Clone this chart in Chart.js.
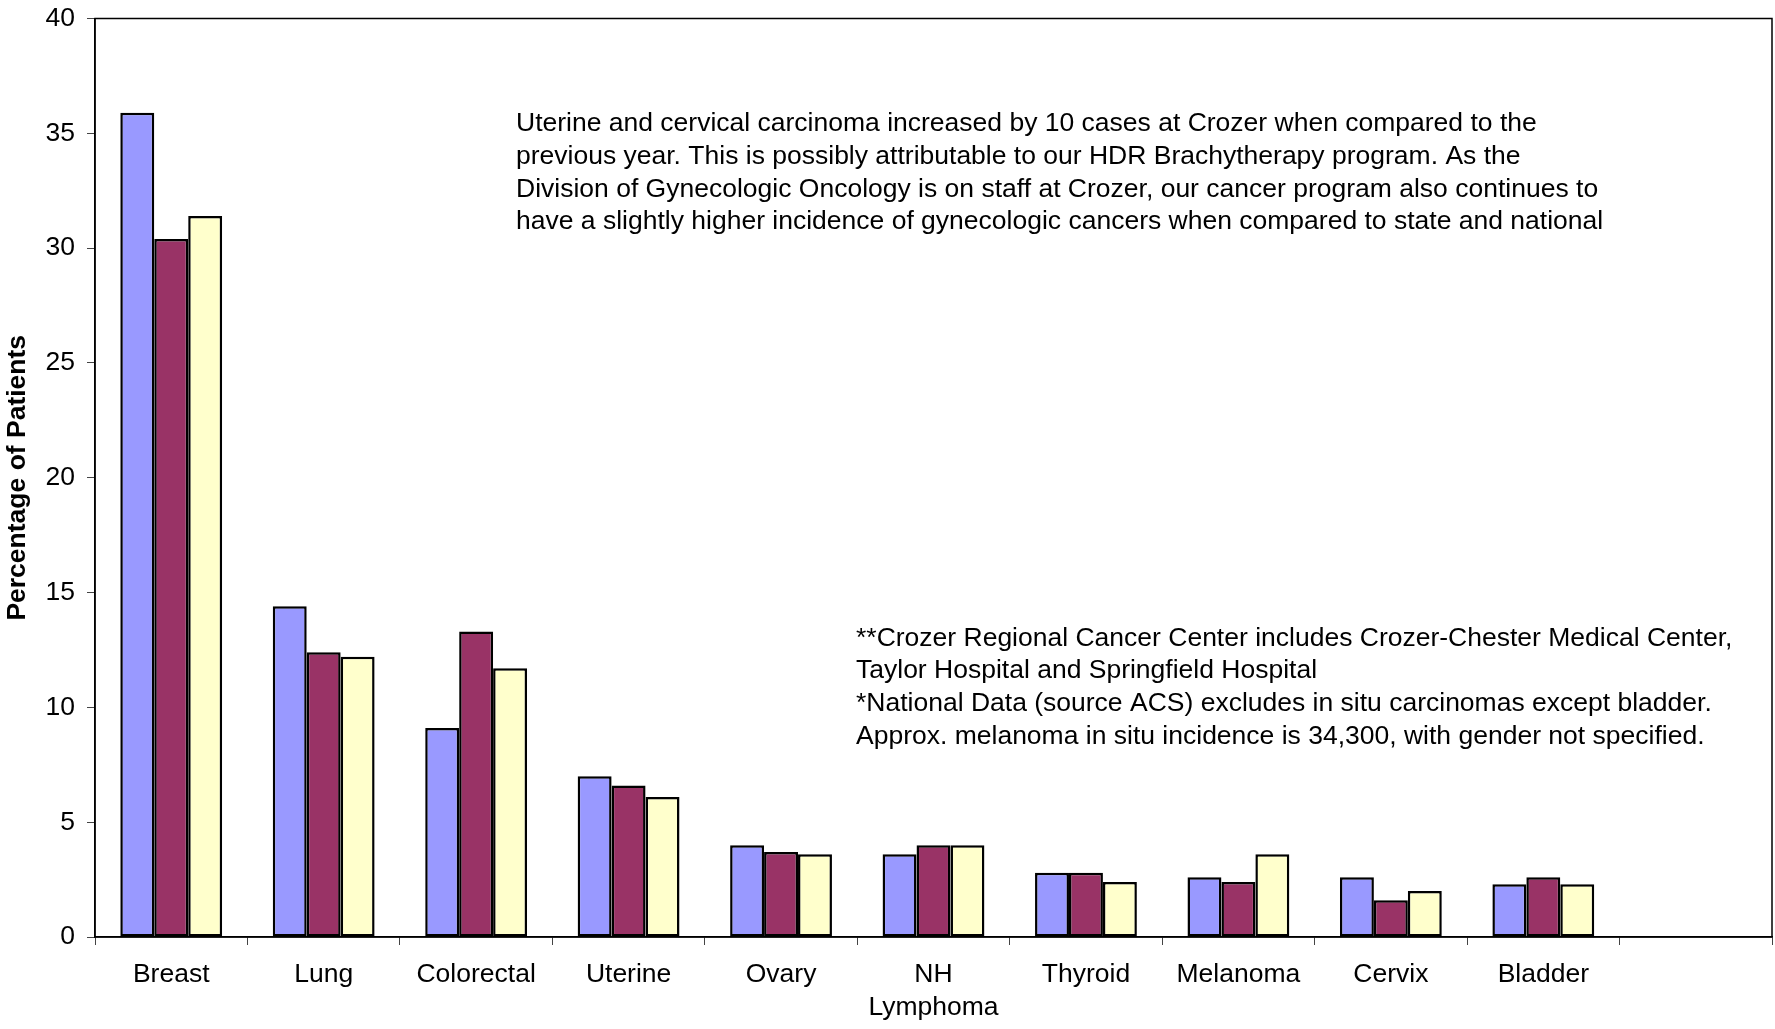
<!DOCTYPE html>
<html>
<head>
<meta charset="utf-8">
<title>Percentage of Patients by Site</title>
<script src="https://cdn.jsdelivr.net/npm/chart.js@4.4.1/dist/chart.umd.min.js"></script>
<style>
  html, body { margin: 0; padding: 0; background: #fff; }
  #wrap { width: 1775px; height: 1029px; }
</style>
</head>
<body>
<div id="wrap"><canvas id="myChart" width="1775" height="1029"></canvas></div>
<script>
  // DATA
  const categories = ["Breast", "Lung", "Colorectal", "Uterine", "Ovary", ["NH", "Lymphoma"],
                      "Thyroid", "Melanoma", "Cervix", "Bladder", ""];
  const crozerValues   = [35.9, 14.4, 9.1, 7.0, 4.0, 3.6, 2.8, 2.6, 2.6, 2.3];
  const stateValues    = [30.4, 12.4, 13.3, 6.6, 3.7, 4.0, 2.8, 2.4, 1.6, 2.6];
  const nationalValues = [31.4, 12.2, 11.7, 6.1, 3.6, 4.0, 2.4, 3.6, 2.0, 2.3];
  const yTicks = [0, 5, 10, 15, 20, 25, 30, 35, 40];

  const noteTop = [
    "Uterine and cervical carcinoma increased by 10 cases at Crozer when compared to the",
    "previous year. This is possibly attributable to our HDR Brachytherapy program. As the",
    "Division of Gynecologic Oncology is on staff at Crozer, our cancer program also continues to",
    "have a slightly higher incidence of gynecologic cancers when compared to state and national"
  ];
  const noteBottom = [
    "**Crozer Regional Cancer Center includes Crozer-Chester Medical Center,",
    "Taylor Hospital and Springfield Hospital",
    "*National Data (source ACS) excludes in situ carcinomas except bladder.",
    "Approx. melanoma in situ incidence is 34,300, with gender not specified."
  ];

  const FONT = "'Liberation Sans', Arial, sans-serif";
  const SIZE = 26.5;

  // box around the plot + the two text notes
  const extras = {
    id: "extras",
    afterDraw(chart) {
      const ctx = chart.ctx;
      const a = chart.chartArea;
      ctx.save();
      ctx.strokeStyle = "#000";
      ctx.lineWidth = 1.5;
      ctx.strokeRect(a.left, a.top, a.right - a.left, a.bottom - a.top);

      ctx.fillStyle = "#000";
      ctx.font = SIZE + "px " + FONT;
      ctx.textAlign = "left";
      ctx.textBaseline = "alphabetic";
      noteTop.forEach((line, i) => ctx.fillText(line, 516, 131 + i * 32.8));
      noteBottom.forEach((line, i) => ctx.fillText(line, 856, 645.5 + i * 32.8));
      ctx.restore();
    }
  };

  new Chart(document.getElementById("myChart"), {
    type: "bar",
    data: {
      labels: categories,
      datasets: [
        { label: "Crozer**", data: crozerValues, backgroundColor: "#9999FF" },
        { label: "State", data: stateValues, backgroundColor: "#993366" },
        { label: "National*", data: nationalValues, backgroundColor: "#FFFFCC" }
      ].map(d => Object.assign(d, {
        borderColor: "#000",
        borderWidth: 2.5,
        borderSkipped: false,
        categoryPercentage: 0.668,
        barPercentage: 1.0
      }))
    },
    options: {
      responsive: false,
      animation: false,
      devicePixelRatio: 1,
      layout: { padding: { left: 0, top: 18.5, right: 3, bottom: 0 } },
      plugins: {
        legend: { display: false },
        tooltip: { enabled: false }
      },
      scales: {
        x: {
          grid: { drawOnChartArea: false, offset: true, tickLength: 8, color: "#444" },
          border: { color: "#000", width: 1.5 },
          ticks: {
            color: "#000",
            padding: 13,
            maxRotation: 0,
            autoSkip: false,
            font: { family: FONT, size: SIZE, lineHeight: 1.25 }
          },
          afterFit(scale) {
            scale.height = 92;
            scale.paddingLeft = 0;
            scale.paddingRight = 0;
          }
        },
        y: {
          min: 0,
          max: 40,
          afterBuildTicks(scale) { scale.ticks = yTicks.map(v => ({ value: v })); },
          grid: { drawOnChartArea: false, tickLength: 8, color: "#444" },
          border: { color: "#000", width: 1.5 },
          ticks: {
            color: "#000",
            padding: 12,
            font: { family: FONT, size: SIZE }
          },
          title: {
            display: true,
            text: "Percentage of Patients",
            color: "#000",
            padding: { top: 2, bottom: 0 },
            font: { family: FONT, size: SIZE, weight: "bold", lineHeight: 1.2 }
          },
          afterFit(scale) {
            scale.width = 95;
            scale.paddingTop = 0;
            scale.paddingBottom = 0;
          }
        }
      }
    },
    plugins: [extras]
  });
</script>
</body>
</html>
